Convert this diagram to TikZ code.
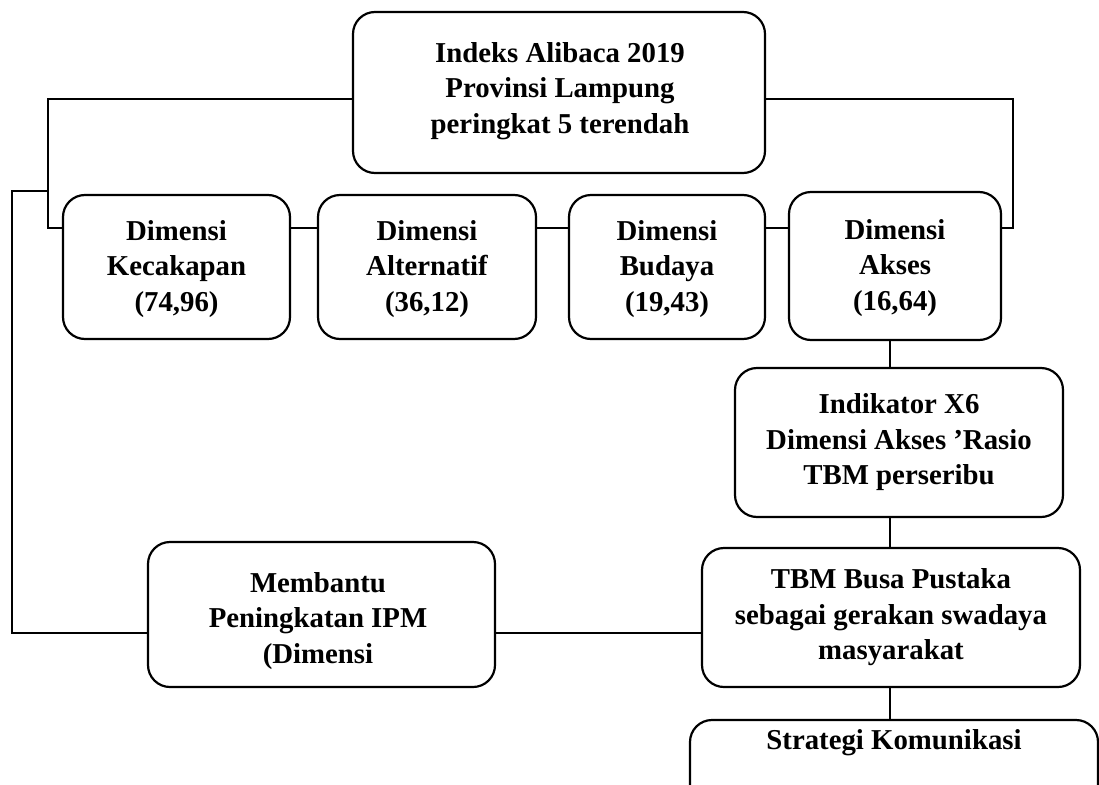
\documentclass[tikz,border=0pt]{standalone}
\usepackage{fontspec}
\setmainfont{Liberation Serif}
\begin{document}
\begin{tikzpicture}[x=1pt,y=-1pt,
  box/.style={draw=black,line width=2.2pt,rounded corners=22pt,align=center,inner sep=0pt,
    font=\fontsize{28.8}{35.5}\selectfont\bfseries},
  txt/.style={align=center,inner sep=0pt,font=\fontsize{28.8}{35.5}\selectfont\bfseries},
  conn/.style={draw=black,line width=2.2pt}]
\useasboundingbox (0,0) rectangle (1099,784);
\clip (0,0) rectangle (1099,784);
% boxes
\node[box,minimum width=412pt,minimum height=161pt] (top) at (559,92.5) {};
\node[txt] (ttop) at (560,91) {Indeks Alibaca 2019\\Provinsi Lampung\\peringkat 5 terendah};
\node[box,minimum width=227pt,minimum height=144pt] (kec) at (176.5,267) {};
\node[txt] (tkec) at (176.5,269) {Dimensi\\Kecakapan\\(74,96)};
\node[box,minimum width=218pt,minimum height=144pt] (alt) at (427,267) {};
\node[txt] (talt) at (427,269) {Dimensi\\Alternatif\\(36,12)};
\node[box,minimum width=196pt,minimum height=144pt] (bud) at (667,267) {};
\node[txt] (tbud) at (667,269) {Dimensi\\Budaya\\(19,43)};
\node[box,minimum width=212pt,minimum height=148pt] (aks) at (895,266) {};
\node[txt] (taks) at (895,268) {Dimensi\\Akses\\(16,64)};
\node[box,minimum width=328pt,minimum height=149pt] (ind) at (899,442.5) {Indikator X6\\Dimensi Akses ’Rasio\\TBM perseribu};
\node[box,minimum width=378pt,minimum height=139pt] (tbm) at (891,617.5) {TBM Busa Pustaka\\sebagai gerakan swadaya\\masyarakat};
\node[box,minimum width=347pt,minimum height=145pt] (mem) at (321.5,614.5) {};
\node[txt] (tmem) at (318,621) {Membantu\\Peningkatan IPM\\(Dimensi};
\node[box,minimum width=408pt,minimum height=110pt] (str) at (894,775) {};
\node[txt] (tstr) at (894,743) {Strategi Komunikasi};
% junction coordinates
\coordinate (L1) at (48,99);
\coordinate (L2) at (48,228);
\coordinate (R1) at (1013,99);
\coordinate (R2) at (1013,228);
\coordinate (O0) at (48,191);
\coordinate (O1) at (12,191);
\coordinate (O2) at (12,633);
\coordinate (V) at (890,0);
% connectors
\draw[conn] (top.west |- L1) -- (L1) -- (L2) -- (kec.west |- L2);
\draw[conn] (top.east |- R1) -- (R1) -- (R2) -- (aks.east |- R2);
\draw[conn] (kec.east |- L2) -- (alt.west |- L2);
\draw[conn] (alt.east |- L2) -- (bud.west |- L2);
\draw[conn] (bud.east |- L2) -- (aks.west |- L2);
\draw[conn] (O0) -- (O1) -- (O2) -- (mem.west |- O2);
\draw[conn] (mem.east |- O2) -- (tbm.west |- O2);
\draw[conn] (aks.south -| V) -- (ind.north -| V);
\draw[conn] (ind.south -| V) -- (tbm.north -| V);
\draw[conn] (tbm.south -| V) -- (str.north -| V);
\end{tikzpicture}
\end{document}
